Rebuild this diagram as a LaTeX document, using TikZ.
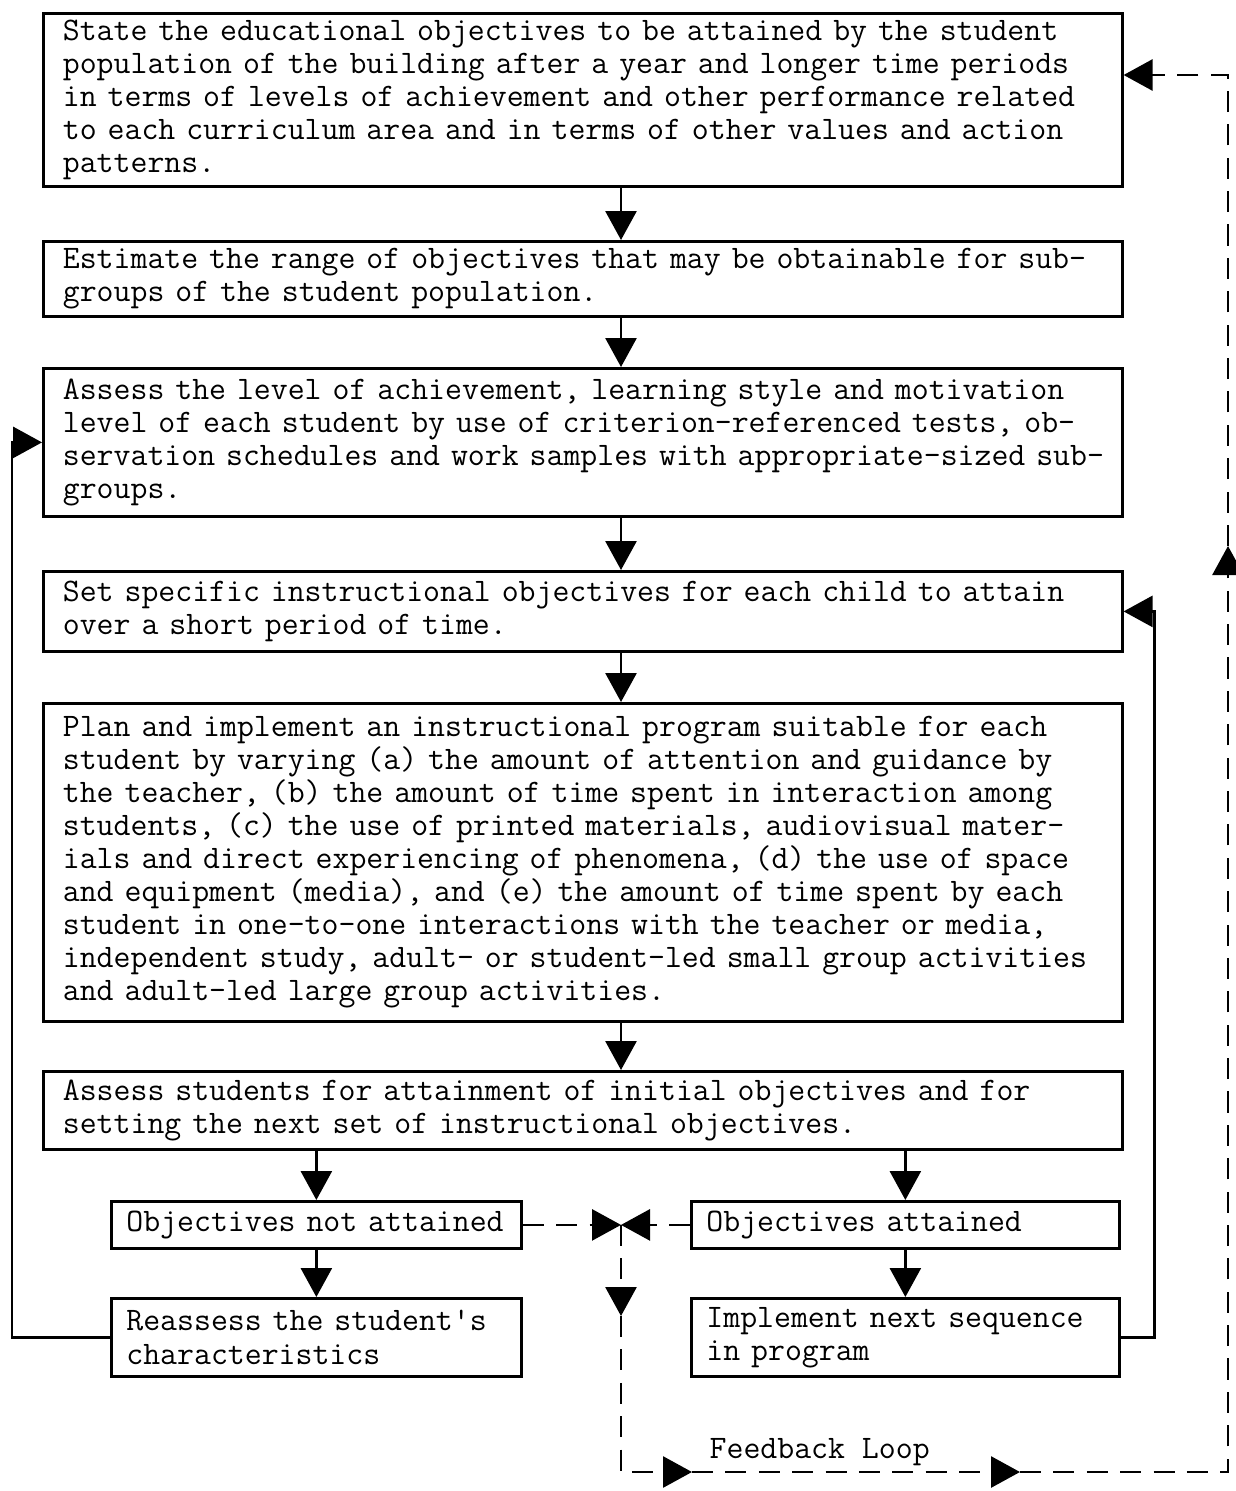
\documentclass[tikz,border=0pt]{standalone}
\usepackage{tikz}
\usetikzlibrary{arrows.meta,calc,positioning}
\newcommand{\typewriter}{\ttfamily\fontsize{18.7}{18.8}\selectfont\spaceskip=\fontcharwd\font 97\relax}
\tikzset{
  typed/.style={font=\typewriter},
  stepbox/.style={typed, draw, line width=1.6pt, anchor=north west, align=left, inner ysep=0pt},
  bigbox/.style={stepbox, inner xsep=0.39cm, text width=20.8cm},
  smallbox/.style={stepbox, inner xsep=0.3cm},
  flow/.style={line width=1.6pt, -{Triangle[width=0.62cm,length=0.58cm]}},
  dashflow/.style={flow, dash pattern=on 12pt off 7pt},
}

\begin{document}
\begin{tikzpicture}[x=0.02cm, y=-0.02cm, thick]
	\useasboundingbox (0,0) rectangle (1236,1491);
	\coordinate (spine) at (621,0);
	
	\node[bigbox, minimum height=3.46cm] (objectives) at (42,12) {State the educational objectives to be attained by the student\\
		population of the building after a year and longer time periods\\
		in terms of levels of achievement and other performance related\\
		to each curriculum area and in terms of other values and action\\
		patterns.};
	\node[bigbox, minimum height=1.5cm] (range) at (42,240) {\mbox{Estimate the range of objectives that may be obtainable for sub-}\\
		groups of the student population.};
	\node[bigbox, minimum height=2.96cm] (assess) at (42,367) {Assess the level of achievement, learning style and motivation\\
		level of each student by use of criterion-referenced tests, ob-\\
		\mbox{servation schedules and work samples with appropriate-sized sub-}\\
		groups.};
	\node[bigbox, minimum height=1.6cm] (specific) at (42,570) {Set specific instructional objectives for each child to attain\\
		over a short period of time.};
	\node[bigbox, minimum height=6.36cm] (program) at (42,702) {Plan and implement an instructional program suitable for each\\
		student by varying (a) the amount of attention and guidance by\\
		the teacher, (b) the amount of time spent in interaction among\\
		students, (c) the use of printed materials, audiovisual mater-\\
		ials and direct experiencing of phenomena, (d) the use of space\\
		and equipment (media), and (e) the amount of time spent by each\\
		student in one-to-one interactions with the teacher or media,\\
		independent study, adult- or student-led small group activities\\
		and adult-led large group activities.};
	\node[bigbox, minimum height=1.56cm] (attainment) at (42,1070) {Assess students for attainment of initial objectives and for\\
		setting the next set of instructional objectives.};
	
	\node[smallbox, text width=7.6cm, minimum height=0.94cm] (notattained) at (110,1200) {Objectives not attained};
	\node[smallbox, text width=7.96cm, minimum height=0.94cm] (attained) at (690,1200) {Objectives attained};
	\node[smallbox, text width=7.6cm, minimum height=1.56cm] (reassess) at (110,1297) {Reassess the student\textquotesingle s\\
		characteristics};
	\node[smallbox, text width=7.96cm, minimum height=1.56cm] (nextseq) at (690,1297) {Implement next sequence\\
		in program};
	
	% main sequence
	\foreach \a/\b in {objectives/range, range/assess, assess/specific, specific/program, program/attainment}
		\draw[flow] (\a.south -| spine) -- (\b.north -| spine);
	\draw[flow] (attainment.south -| notattained.north) -- (notattained.north);
	\draw[flow] (attainment.south -| attained.north) -- (attained.north);
	\draw[flow] (notattained) -- (reassess);
	\draw[flow] (attained) -- (nextseq);
	\draw[flow] (reassess.west) -- ++(-98,0) |- (assess.west);
	\draw[flow] (nextseq.east) -- ++(34,0) |- (specific.east);
	
	% feedback loop
	\coordinate (fork) at (notattained.east -| spine);
	\coordinate (downtip) at (621,1316);
	\coordinate (fbtipa) at (692,1472);
	\coordinate (fbtipb) at (1020,1472);
	\coordinate (uptip) at (1228,546);
	\coordinate (fbin) at (objectives.north east |- 0,75);
	
	\draw[dashflow] (notattained.east) -- (fork);
	\draw[dashflow] (attained.west) -- (fork);
	\draw[dashflow] (fork) -- (downtip);
	\draw[dashflow] (downtip) |- (fbtipa);
	\draw[dashflow] (fbtipa) -- (fbtipb);
	\draw[dashflow] (fbtipb) -| (uptip);
	\draw[dashflow] (uptip) |- (fbin);
	\node[typed, anchor=west, inner sep=0pt] (fblabel) at (709,1452) {Feedback Loop};
\end{tikzpicture}
\end{document}
